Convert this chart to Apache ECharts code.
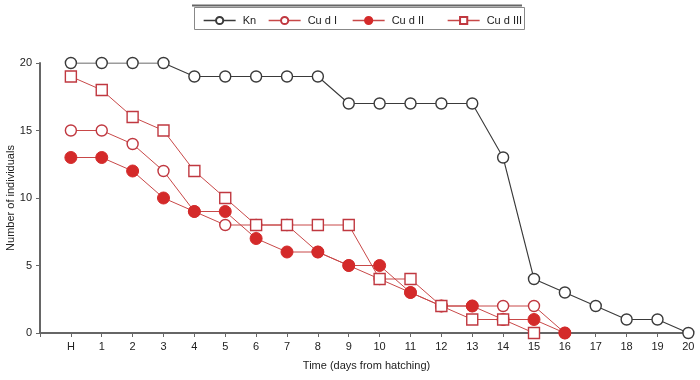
<!DOCTYPE html>
<html>
<head>
<meta charset="utf-8">
<script src="https://cdn.jsdelivr.net/npm/echarts@6/dist/echarts.min.js"></script>
<style>html,body{margin:0;padding:0;background:#fff}#c{width:700px;height:380px}</style>
</head>
<body>
<div id="c"></div>
<script>
const days = [0,1,2,3,4,5,6,7,8,9,10,11,12,13,14,15,16,17,18,19,20];
const tickLabels = ['H','1','2','3','4','5','6','7','8','9','10','11','12','13','14','15','16','17','18','19','20'];
const seriesNames = ['Kn','Cu d I','Cu d II','Cu d III'];
const kn     = [20,20,20,20,19,19,19,19,19,17,17,17,17,17,13,4,3,2,1,1,0];
const cuD1   = [15,15,14,12,9,8,8,8,6,5,4,3,2,2,2,2,0];
const cuD2   = [13,13,12,10,9,9,7,6,6,5,5,3,2,2,1,1,0];
const cuD3   = [19,18,16,15,12,10,8,8,8,8,4,4,2,1,1,0];

const pair = arr => arr.map((v,i)=>[days[i],v]);
const FONT = '"Liberation Sans", Arial, sans-serif';
const RED = '#d42a2a';
const RED_LINE = '#c84848';
const DARK = '#3a3a3a';

const chart = echarts.init(document.getElementById('c'), null, {renderer:'canvas'});
const legendLefts = [198, 263, 347, 442];
const legends = seriesNames.map((n,i)=>({
  data:[n], left: legendLefts[i], top: 10, itemWidth: 32, itemHeight: 9, itemGap: 0,
  lineStyle:{width:1.3},
  textStyle:{fontFamily:FONT,fontSize:11,color:'#222',padding:[0,0,0,2]}
}));
chart.setOption({
  animation:false,
  backgroundColor:'#fff',
  graphic:[{type:'rect',left:192,top:5,shape:{width:330,height:22},style:{fill:'none',stroke:'#888',lineWidth:1}, z:-1},
           {type:'line',shape:{x1:192,y1:5.5,x2:522,y2:5.5},style:{stroke:'#666',lineWidth:2}}],
  legend: legends,
  grid:{left:40,right:7,top:63,bottom:47,containLabel:false,outerBoundsMode:'none'},
  xAxis:{type:'value',min:-1,max:20.15,interval:1,
    name:'Time (days from hatching)',nameLocation:'middle',nameGap:27,nameMoveOverlap:false,
    nameTextStyle:{fontFamily:FONT,fontSize:11,color:'#222'},
    axisLine:{onZero:false,lineStyle:{color:'#666',width:2}},
    axisTick:{length:4,lineStyle:{color:'#666',width:1}},
    splitLine:{show:false},
    axisLabel:{fontFamily:FONT,fontSize:11,color:'#222',margin:8,showMaxLabel:false,
      formatter:v=> (v>=0 && v<=20 && Number.isInteger(v)) ? tickLabels[v] : ''}
  },
  yAxis:{type:'value',min:0,max:20,interval:5,
    name:'Number of individuals',nameLocation:'middle',nameGap:24,nameMoveOverlap:false,
    nameTextStyle:{fontFamily:FONT,fontSize:11,color:'#222'},
    axisLine:{show:true,onZero:false,lineStyle:{color:'#666',width:2}},
    axisTick:{show:true,length:4,lineStyle:{color:'#666',width:1}},
    splitLine:{show:false},
    axisLabel:{fontFamily:FONT,fontSize:11,color:'#222',margin:8}
  },
  series:[
    {name:'Kn',type:'line',data:pair(kn),symbol:'circle',symbolSize:11,
     lineStyle:{color:DARK,width:1.1},itemStyle:{color:'#fff',borderColor:DARK,borderWidth:1.4}},
    {name:'Cu d I',type:'line',data:pair(cuD1),symbol:'circle',symbolSize:11,
     lineStyle:{color:RED_LINE,width:1},itemStyle:{color:'#fff',borderColor:'#c03840',borderWidth:1.4}},
    {name:'Cu d II',type:'line',data:pair(cuD2),symbol:'circle',symbolSize:12,
     lineStyle:{color:RED_LINE,width:1},itemStyle:{color:RED,borderColor:RED,borderWidth:1}},
    {name:'Cu d III',type:'line',data:pair(cuD3),symbol:'rect',symbolSize:11,
     lineStyle:{color:RED_LINE,width:1},itemStyle:{color:'#fff',borderColor:'#c03840',borderWidth:1.4}}
  ]
});
</script>
</body>
</html>
